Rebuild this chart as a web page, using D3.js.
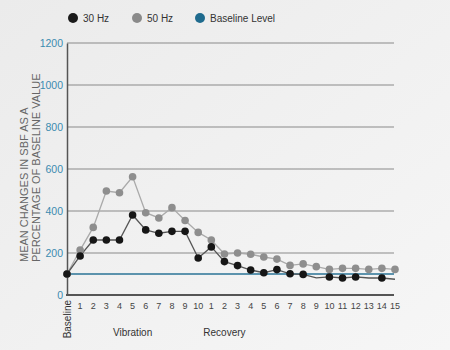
<!DOCTYPE html>
<html><head><meta charset="utf-8">
<script src="https://cdn.jsdelivr.net/npm/d3@7/dist/d3.min.js"></script>
<style>
html,body{margin:0;padding:0;background:#f0f0f0;}
svg{display:block;font-family:"Liberation Sans","Helvetica",Arial,sans-serif;}
</style></head><body>
<svg id="chart" width="450" height="350"></svg>
<script>
const tickLabels = ["Baseline","1","2","3","4","5","6","7","8","9","10","1","2","3","4","5","6","7","8","9","10","11","12","13","14","15"];
const series30 = [100,186,262,262,262,381,310,294,303,303,176,229,159,140,119,106,121,101,98,82,86,81,86,81,81,75];
const marked30 = [1,1,1,1,1,1,1,1,1,1,1,1,1,1,1,1,1,1,1,0,1,1,1,0,1,0];
const series50 = [100,214,322,495,487,563,392,367,416,355,298,262,195,200,194,181,171,141,148,135,122,127,127,122,127,122];
const baselineLevel = 100;
const yTicks = [0,200,400,600,800,1000,1200];
const legendNames = ["30 Hz","50 Hz","Baseline Level"];
const groupLabels = [{name:"Vibration", at:5}, {name:"Recovery", at:12}];

const svg = d3.select("#chart");
const defs = svg.append("defs");
const grad = defs.append("linearGradient").attr("id","bg").attr("x1","0").attr("y1","0").attr("x2","1").attr("y2","1");
grad.append("stop").attr("offset","0").attr("stop-color","#ebebeb");
grad.append("stop").attr("offset","1").attr("stop-color","#f6f6f6");
svg.append("rect").attr("width",450).attr("height",350).attr("fill","url(#bg)");

const x = d3.scaleLinear().domain([0, tickLabels.length-1]).range([67, 395]);
const y = d3.scaleLinear().domain([0,1200]).range([295, 43]);
const xEnd = 394;

// grid lines
svg.append("g").selectAll("line").data(yTicks.filter(d=>d>0)).join("line")
  .attr("x1",67).attr("x2",xEnd).attr("y1",d=>y(d)).attr("y2",d=>y(d))
  .attr("stroke","#8a8a8a").attr("stroke-width",1.2);

// y axis
const yAxis = svg.append("g").attr("transform","translate(67,0)")
  .call(d3.axisLeft(y).tickValues(yTicks).tickSize(0).tickPadding(4).tickFormat(d3.format("d")));
yAxis.select(".domain").attr("stroke","#555").attr("stroke-width",1.5);
yAxis.selectAll("text").attr("fill","#3b8bb0").attr("font-size","10.5px").attr("font-family","Liberation Sans, Arial, sans-serif");

// x axis line
svg.append("line").attr("x1",66).attr("x2",xEnd).attr("y1",y(0)).attr("y2",y(0))
  .attr("stroke","#555").attr("stroke-width",2);

// baseline level
svg.append("line").attr("x1",67).attr("x2",xEnd).attr("y1",y(baselineLevel)).attr("y2",y(baselineLevel))
  .attr("stroke","#2a7396").attr("stroke-width",1.5);

// x tick labels
const xt = svg.append("g");
tickLabels.forEach((t,i)=>{
  if(i===0){
    xt.append("text").attr("transform",`translate(${x(0)+4},300) rotate(-90)`)
      .attr("text-anchor","end").attr("font-size","10px").attr("fill","#333").text(t);
  } else {
    xt.append("text").attr("x",x(i)).attr("y",309).attr("text-anchor","middle")
      .attr("font-size","9px").attr("fill","#444").text(t);
  }
});
groupLabels.forEach(g=>{
  svg.append("text").attr("x",x(g.at)).attr("y",336).attr("text-anchor","middle")
    .attr("font-size","10px").attr("fill","#333").text(g.name);
});

// y title
const yt = svg.append("text").attr("transform","translate(0,262) rotate(-90)")
  .attr("text-anchor","start").attr("font-size","11px").attr("fill","#666");
yt.append("tspan").attr("x",0).attr("y",27.5).text("MEAN CHANGES IN SBF AS A");
yt.append("tspan").attr("x",0).attr("y",39.5).text("PERCENTAGE OF BASELINE VALUE");

// lines
const line = d3.line().x((d,i)=>x(i)).y(d=>y(d));
svg.append("path").datum(series50).attr("d",line).attr("fill","none").attr("stroke","#aaaaaa").attr("stroke-width",1.3);
svg.append("path").datum(series30).attr("d",line).attr("fill","none").attr("stroke","#555").attr("stroke-width",1.3);

svg.append("g").selectAll("circle").data(series50).join("circle")
  .attr("cx",(d,i)=>x(i)).attr("cy",d=>y(d)).attr("r",3.8).attr("fill","#8e8e8e");
svg.append("g").selectAll("circle").data(series30.map((v,i)=>({v,i})).filter(d=>marked30[d.i])).join("circle")
  .attr("cx",d=>x(d.i)).attr("cy",d=>y(d.v)).attr("r",3.8).attr("fill","#161616");

// legend
const legColors = ["#1a1a1a","#8a8a8a","#1f6b8e"];
const legX = [73,137,200];
legendNames.forEach((n,i)=>{
  svg.append("circle").attr("cx",legX[i]).attr("cy",18).attr("r",5).attr("fill",legColors[i]);
  svg.append("text").attr("x",legX[i]+10).attr("y",21.5).attr("font-size","10px").attr("fill","#333").text(n);
});
</script>
</body></html>
